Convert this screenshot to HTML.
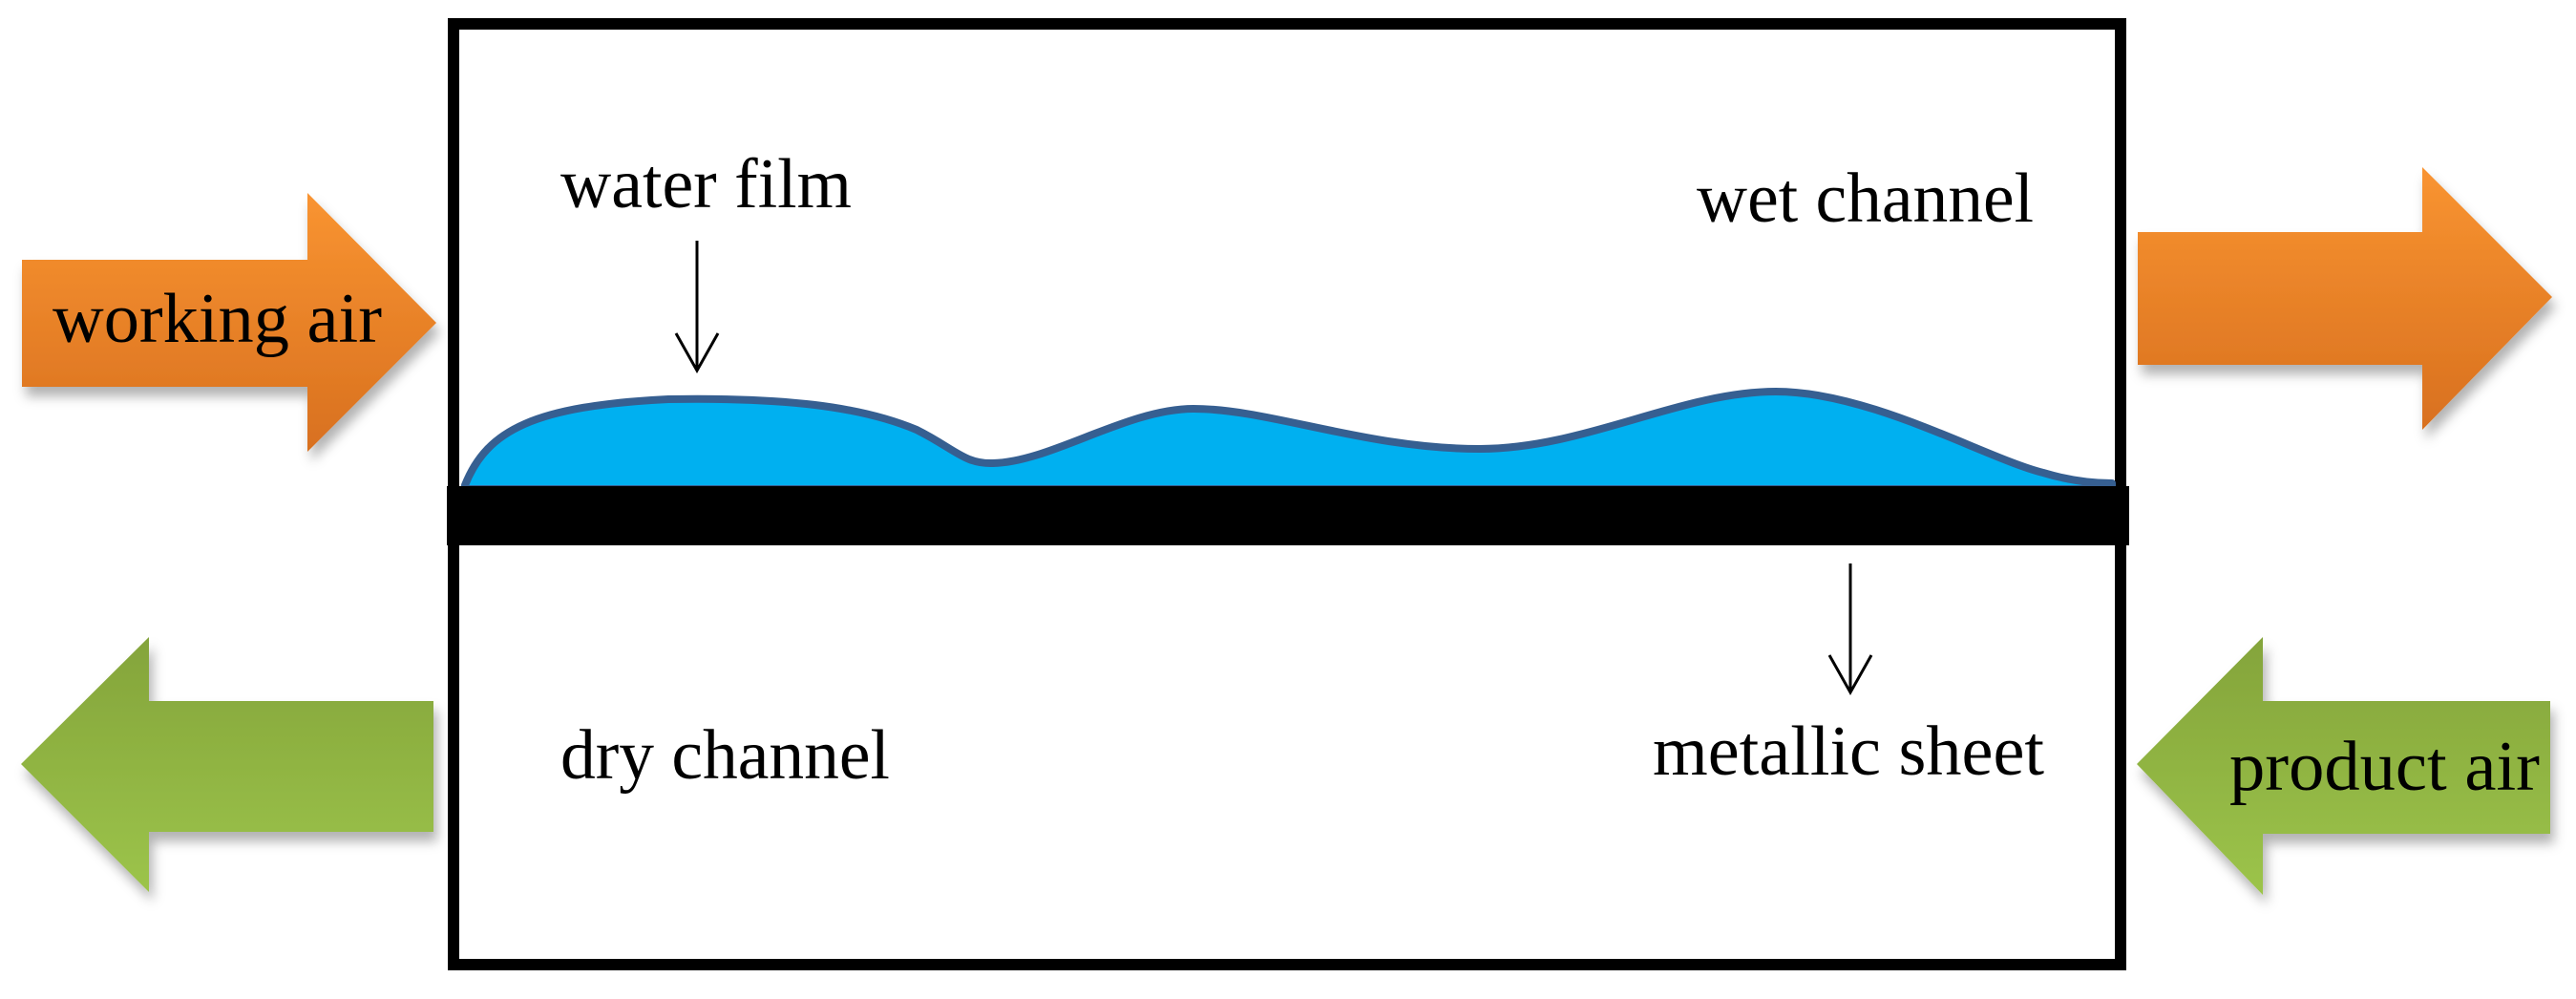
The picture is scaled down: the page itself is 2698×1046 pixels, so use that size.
<!DOCTYPE html>
<html><head><meta charset="utf-8"><style>html,body{margin:0;padding:0;background:#fff;}svg{display:block;}
.t{font-family:"Liberation Serif","Times New Roman","DejaVu Serif",serif;font-size:74px;fill:#000;}</style></head>
<body>
<svg width="2698" height="1046" viewBox="0 0 2698 1046" xmlns="http://www.w3.org/2000/svg">
<defs>
<linearGradient id="og" x1="0" y1="0" x2="0" y2="1"><stop offset="0" stop-color="#f99431"/><stop offset="1" stop-color="#d8701f"/></linearGradient>
<linearGradient id="gg" x1="0" y1="0" x2="0" y2="1"><stop offset="0" stop-color="#84a43b"/><stop offset="1" stop-color="#9cc44a"/></linearGradient>
<filter id="sh" x="-10%" y="-10%" width="130%" height="130%"><feDropShadow dx="4" dy="10" stdDeviation="6" flood-color="#000" flood-opacity="0.3"/></filter>
</defs>
<rect x="475" y="25" width="1746" height="985" fill="#fff" stroke="#000" stroke-width="12"/>
<path d="M487,508 C510,450 560,425 700,418 C820,416 900,425 960,450 C1000,470 1010,486 1040,485 C1100,484 1180,428 1250,428 C1330,428 1430,470 1550,470 C1660,470 1760,410 1860,410 C1960,410 2080,480 2140,495 C2170,504 2195,506 2212,506 L2212,512 L487,512 Z" fill="#00b0f0" stroke="#365f91" stroke-width="8" stroke-linejoin="round"/>
<rect x="468" y="509" width="1762" height="62" fill="#000"/>
<polygon points="23,272 322,272 322,202 457,338 322,473 322,405 23,405" fill="url(#og)" filter="url(#sh)"/>
<polygon points="2239,243 2537,243 2537,175 2673,311 2537,450 2537,382 2239,382" fill="url(#og)" filter="url(#sh)"/>
<polygon points="22,800 156,667 156,734 454,734 454,871 156,871 156,934" fill="url(#gg)" filter="url(#sh)"/>
<polygon points="2238,800 2370,667 2370,734 2671,734 2671,873 2370,873 2370,937" fill="url(#gg)" filter="url(#sh)"/>
<g stroke="#000" stroke-width="3" fill="none">
<line x1="730" y1="252" x2="730" y2="388"/>
<polyline points="708,349 730,388 752,349"/>
<line x1="1938" y1="590" x2="1938" y2="725"/>
<polyline points="1916,686 1938,725 1960,686"/>
</g>
<text class="t" x="55" y="358" textLength="345" lengthAdjust="spacingAndGlyphs">working air</text>
<text class="t" x="587" y="217" textLength="305" lengthAdjust="spacingAndGlyphs">water film</text>
<text class="t" x="1777" y="232" textLength="353" lengthAdjust="spacingAndGlyphs">wet channel</text>
<text class="t" x="587" y="815" textLength="345" lengthAdjust="spacingAndGlyphs">dry channel</text>
<text class="t" x="1731" y="811" textLength="410" lengthAdjust="spacingAndGlyphs">metallic sheet</text>
<text class="t" x="2335" y="827" textLength="325" lengthAdjust="spacingAndGlyphs">product air</text>
</svg>
</body></html>
